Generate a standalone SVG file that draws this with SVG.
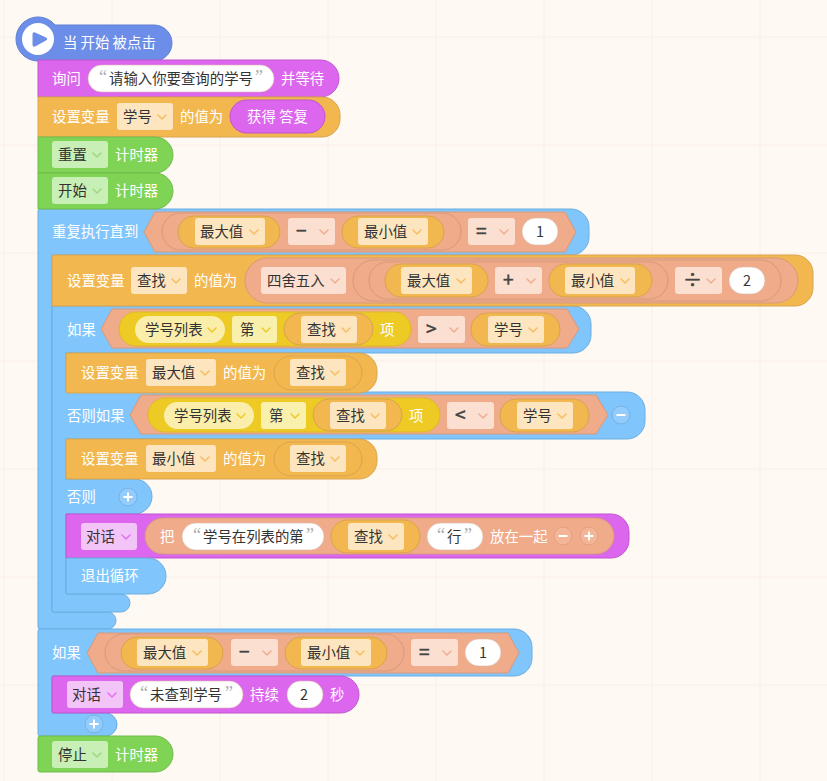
<svg xmlns="http://www.w3.org/2000/svg" width="827" height="781" viewBox="0 0 827 781">
<style>
text{font-family:"Noto Sans CJK SC","Noto Sans",sans-serif;font-size:14.4px}
.t{fill:#fff}.k{fill:#333}.op{fill:#444;stroke:#444;stroke-width:.5px;font-size:19px}.q{fill:#aaa;font-family:"Liberation Serif",serif;font-size:18px}
.grid{stroke:#f9efe6;stroke-width:1;fill:none}
.blue{fill:#80c6fc;stroke:#6aaee2}.org{fill:#f2b84f;stroke:#d9a34e}.pur{fill:#dd66ee;stroke:#bf55cf}.grn{fill:#80d455;stroke:#70bb4c}.sal{fill:#efab8a;stroke:#d69a7c}.yel{fill:#eeca25;stroke:#dcb92a}.hat{fill:#6c8ee8;stroke:#5f80d6}
.lst{fill:#faeeaa}.w{fill:#fff;stroke:#d8b8a8;stroke-width:.6px}.do{fill:#fde6bf}.ds{fill:#fbdfd0}.dg{fill:#c8efb5}.dp{fill:#f2c4f8}.dy{fill:#faf0ae}
.ch{fill:none;stroke-width:1.5;stroke-linecap:round;stroke-linejoin:round}.co{stroke:#f5bd60}.cs{stroke:#f0ad90}.cg{stroke:#9ed880}.cp{stroke:#e070f0}.cy{stroke:#eec92c}
.btn{fill:#93ccfa;stroke:#74b2e6}.bs{fill:#f3b596;stroke:#dfa283}.pm{stroke:#fff;stroke-width:2;fill:none}
</style>
<rect width="827" height="781" fill="#fff9f3"/>
<path class="grid" d="M4 0V781M112 0V781M220 0V781M328 0V781M436 0V781M544 0V781M652 0V781M760 0V781M0 37H827M0 145H827M0 253H827M0 361H827M0 469H827M0 577H827M0 685H827"/>

<g id="repeat">
<path class="blue" d="M40 209H571A18 18 0 0 1 589 227V237A18 18 0 0 1 571 255H52V612H107.500A8.500 8.500 0 0 1 107.500 629H40Q38 629 38 627V211Q38 209 40 209Z"/>
<text class="t" x="52" y="237">重复执行直到</text>
<path class="sal" d="M155 212H565L576 232L565 252H155L144 232Z"/>
<rect class="sal" x="162" y="213" width="299" height="37" rx="18.500"/>
<rect class="org" x="178" y="216" width="102" height="32" rx="16"/>
<rect class="do" x="195" y="218" width="70" height="27" rx="3"/><text class="k" x="200" y="237">最大值</text><path class="ch co" d="M250 230l4 4l4-4"/>
<rect class="ds" x="288" y="218" width="47" height="27" rx="3"/><text class="op" x="296" y="238">−</text><path class="ch cs" d="M320 230l4 4l4-4"/>
<rect class="org" x="342" y="216" width="102" height="32" rx="16"/>
<rect class="do" x="358" y="218" width="70" height="27" rx="3"/><text class="k" x="364" y="237">最小值</text><path class="ch co" d="M413 230l4 4l4-4"/>
<rect class="ds" x="468" y="218" width="47" height="27" rx="3"/><text class="op" x="476" y="238">=</text><path class="ch cs" d="M500 230l4 4l4-4"/>
<rect class="w" x="522" y="218" width="36" height="27" rx="13.500"/><text class="k" x="540" y="237" text-anchor="middle">1</text>
</g>

<g id="if-else">
<path class="blue" d="M54 306H573A18 18 0 0 1 591 324V335A18 18 0 0 1 573 353H66V392H627A18 18 0 0 1 645 410V421A18 18 0 0 1 627 439H66V479H134.500A17.500 17.500 0 0 1 134.500 514H66V594H121A9 9 0 0 1 121 612H54Q52 612 52 610V308Q52 306 54 306Z"/>
<text class="t" x="67" y="335">如果</text>
<path class="sal" d="M112 309H567L579 329L567 348H112L101 329Z"/>
<rect class="yel" x="119" y="312" width="292" height="34" rx="17"/>
<rect class="lst" x="135" y="316" width="90" height="27" rx="13.500"/><text class="k" x="145" y="335">学号列表</text><path class="ch cy" d="M208 328l4 4l4-4"/>
<rect class="dy" x="232" y="316" width="45" height="27" rx="3"/><text class="k" x="240" y="335">第</text><path class="ch cy" d="M262 328l4 4l4-4"/>
<rect class="org" x="284" y="313" width="89" height="32" rx="16"/>
<rect class="do" x="301" y="316" width="56" height="27" rx="3"/><text class="k" x="307" y="335">查找</text><path class="ch co" d="M342 328l4 4l4-4"/>
<text class="t" x="380" y="335">项</text>
<rect class="ds" x="418" y="316" width="47" height="27" rx="3"/><text class="op" x="426" y="336">&gt;</text><path class="ch cs" d="M450 328l4 4l4-4"/>
<rect class="org" x="471" y="313" width="89" height="33" rx="16"/>
<rect class="do" x="488" y="316" width="56" height="27" rx="3"/><text class="k" x="494" y="335">学号</text><path class="ch co" d="M529 328l4 4l4-4"/>

<text class="t" x="67" y="421">否则如果</text>
<path class="sal" d="M141 395H596L608 415L596 434H141L130 415Z"/>
<rect class="yel" x="148" y="398" width="292" height="34" rx="17"/>
<rect class="lst" x="164" y="402" width="90" height="27" rx="13.500"/><text class="k" x="174" y="421">学号列表</text><path class="ch cy" d="M237 414l4 4l4-4"/>
<rect class="dy" x="261" y="402" width="45" height="27" rx="3"/><text class="k" x="269" y="421">第</text><path class="ch cy" d="M291 414l4 4l4-4"/>
<rect class="org" x="313" y="399" width="89" height="32" rx="16"/>
<rect class="do" x="330" y="402" width="56" height="27" rx="3"/><text class="k" x="336" y="421">查找</text><path class="ch co" d="M371 414l4 4l4-4"/>
<text class="t" x="409" y="421">项</text>
<rect class="ds" x="447" y="402" width="47" height="27" rx="3"/><text class="op" x="455" y="422">&lt;</text><path class="ch cs" d="M479 414l4 4l4-4"/>
<rect class="org" x="500" y="399" width="89" height="33" rx="16"/>
<rect class="do" x="517" y="402" width="56" height="27" rx="3"/><text class="k" x="523" y="421">学号</text><path class="ch co" d="M558 414l4 4l4-4"/>
<circle class="btn" cx="621" cy="415" r="9"/><path class="pm" d="M616.500 415H625.500"/>
<text class="t" x="67" y="502">否则</text>
<circle class="btn" cx="128" cy="497" r="9"/><path class="pm" d="M123.500 497H132.500M128 492.500V501.500"/>
</g>

<g id="when-start">
<path class="hat" d="M55 25H154A18 18 0 0 1 154 61H38A22 22 0 1 1 55 25Z"/>
<circle cx="38" cy="39" r="16" fill="#fff"/>
<path d="M33 34Q33 32 35 33L46 38Q48 39 46 40L35 46Q33 47 33 45Z" fill="#6c8ee8" stroke="#6c8ee8"/>
<text class="t" x="63" y="48">当 开始 被点击</text>
</g>

<g id="ask">
<path class="pur" d="M38 60H320.500A18.500 18.500 0 0 1 320.500 97H38Z"/>
<text class="t" x="52" y="84">询问</text>
<rect class="w" x="88" y="65" width="186" height="27" rx="13.500"/>
<text class="q" x="99" y="83">“</text><text class="k" x="109" y="84">请输入你要查询的学号</text><text class="q" x="255" y="83">”</text>
<text class="t" x="281" y="84">并等待</text>
</g>

<g id="set-id">
<path class="org" d="M38 97H322A18 18 0 0 1 340 115V119A18 18 0 0 1 322 137H38Z"/>
<text class="t" x="52" y="122">设置变量</text>
<rect class="do" x="117" y="103" width="56" height="27" rx="3"/><text class="k" x="123" y="122">学号</text><path class="ch co" d="M158 115l4 4l4-4"/>
<text class="t" x="180" y="122">的值为</text>
<rect class="pur" x="230" y="100" width="95" height="33" rx="16.500"/><text class="t" x="247" y="122">获得 答复</text>
</g>

<g id="timer-reset">
<path class="grn" d="M38 137H155A18 18 0 0 1 155 173H38Z"/>
<rect class="dg" x="52" y="141" width="56" height="27" rx="3"/><text class="k" x="58" y="160">重置</text><path class="ch cg" d="M93 153l4 4l4-4"/>
<text class="t" x="115" y="160">计时器</text>
</g>

<g id="timer-start">
<path class="grn" d="M38 173H155A18 18 0 0 1 155 209H38Z"/>
<rect class="dg" x="52" y="177" width="56" height="27" rx="3"/><text class="k" x="58" y="196">开始</text><path class="ch cg" d="M93 189l4 4l4-4"/>
<text class="t" x="115" y="196">计时器</text>
</g>

<g id="set-find">
<path class="org" d="M54 255H795A18 18 0 0 1 813 273V288A18 18 0 0 1 795 306H52V257Q52 255 54 255Z"/>
<text class="t" x="67" y="286">设置变量</text>
<rect class="do" x="131" y="267" width="56" height="27" rx="3"/><text class="k" x="137" y="286">查找</text><path class="ch co" d="M172 279l4 4l4-4"/>
<text class="t" x="194" y="286">的值为</text>
<rect class="sal" x="245" y="258" width="553" height="45" rx="22.500"/>
<rect class="ds" x="261" y="267" width="85" height="27" rx="3"/><text class="k" x="267" y="286">四舍五入</text><path class="ch cs" d="M331 279l4 4l4-4"/>
<rect class="sal" x="353" y="260" width="428" height="41" rx="20.500"/>
<rect class="sal" x="369" y="262" width="299" height="37" rx="18.500"/>
<rect class="org" x="385" y="264" width="103" height="33" rx="16.500"/>
<rect class="do" x="401" y="267" width="71" height="27" rx="3"/><text class="k" x="407" y="286">最大值</text><path class="ch co" d="M457 279l4 4l4-4"/>
<rect class="ds" x="495" y="267" width="47" height="27" rx="3"/><text class="op" x="503" y="287">+</text><path class="ch cs" d="M527 279l4 4l4-4"/>
<rect class="org" x="549" y="264" width="103" height="33" rx="16.500"/>
<rect class="do" x="565" y="267" width="70" height="27" rx="3"/><text class="k" x="571" y="286">最小值</text><path class="ch co" d="M621 279l4 4l4-4"/>
<rect class="ds" x="675" y="267" width="47" height="27" rx="3"/><text class="op" x="683" y="287">÷</text><path class="ch cs" d="M707 279l4 4l4-4"/>
<rect class="w" x="729" y="267" width="36" height="27" rx="13.500"/><text class="k" x="747" y="286" text-anchor="middle">2</text>
</g>

<g id="set-max">
<path class="org" d="M68 353H359A18 18 0 0 1 377 371V375A18 18 0 0 1 359 393H68Q66 393 66 391V355Q66 353 68 353Z"/>
<text class="t" x="81" y="378">设置变量</text>
<rect class="do" x="146" y="359" width="70" height="27" rx="3"/><text class="k" x="152" y="378">最大值</text><path class="ch co" d="M201 371l4 4l4-4"/>
<text class="t" x="223" y="378">的值为</text>
<rect class="org" x="274" y="356" width="88" height="34" rx="17"/>
<rect class="do" x="290" y="359" width="56" height="27" rx="3"/><text class="k" x="296" y="378">查找</text><path class="ch co" d="M331 371l4 4l4-4"/>
</g>

<g id="set-min">
<path class="org" d="M68 439H359A18 18 0 0 1 377 457V461A18 18 0 0 1 359 479H68Q66 479 66 477V441Q66 439 68 439Z"/>
<text class="t" x="81" y="464">设置变量</text>
<rect class="do" x="146" y="445" width="70" height="27" rx="3"/><text class="k" x="152" y="464">最小值</text><path class="ch co" d="M201 457l4 4l4-4"/>
<text class="t" x="223" y="464">的值为</text>
<rect class="org" x="274" y="442" width="88" height="34" rx="17"/>
<rect class="do" x="290" y="445" width="56" height="27" rx="3"/><text class="k" x="296" y="464">查找</text><path class="ch co" d="M331 457l4 4l4-4"/>
</g>

<g id="say-found">
<path class="pur" d="M66 514H611A18 18 0 0 1 629 532V540A18 18 0 0 1 611 558H66Z"/>
<rect class="dp" x="81" y="523" width="56" height="27" rx="3"/><text class="k" x="86" y="542">对话</text><path class="ch cp" d="M122 535l4 4l4-4"/>
<rect class="sal" x="145" y="518" width="469" height="36" rx="18"/>
<text class="t" x="160" y="542">把</text>
<rect class="w" x="182" y="523" width="142" height="27" rx="13.500"/>
<text class="q" x="193" y="541">“</text><text class="k" x="203" y="542">学号在列表的第</text><text class="q" x="306" y="541">”</text>
<rect class="org" x="331" y="520" width="89" height="33" rx="16.500"/>
<rect class="do" x="348" y="523" width="56" height="27" rx="3"/><text class="k" x="354" y="542">查找</text><path class="ch co" d="M389 535l4 4l4-4"/>
<rect class="w" x="427" y="523" width="56" height="27" rx="13.500"/>
<text class="q" x="437" y="541">“</text><text class="k" x="447" y="542">行</text><text class="q" x="464" y="541">”</text>
<text class="t" x="490" y="542">放在一起</text>
<circle class="bs" cx="563" cy="536" r="9"/><path class="pm" d="M558.500 536H567.500"/>
<circle class="bs" cx="589" cy="536" r="9"/><path class="pm" d="M584.500 536H593.500M589 531.500V540.500"/>
</g>

<g id="break">
<path class="blue" d="M68 558H148A18 18 0 0 1 148 594H68Q66 594 66 592V560Q66 558 68 558Z"/>
<text class="t" x="81" y="581">退出循环</text>
</g>

<g id="if-final">
<path class="blue" d="M40 629H514A18 18 0 0 1 532 647V658A18 18 0 0 1 514 676H52V713H105.500A11.500 11.500 0 0 1 105.500 736H40Q38 736 38 734V631Q38 629 40 629Z"/>
<text class="t" x="52" y="658">如果</text>
<path class="sal" d="M98 633H508L519 653L508 673H98L87 653Z"/>
<rect class="sal" x="105" y="634" width="299" height="37" rx="18.500"/>
<rect class="org" x="121" y="637" width="102" height="32" rx="16"/>
<rect class="do" x="137" y="639" width="71" height="27" rx="3"/><text class="k" x="143" y="658">最大值</text><path class="ch co" d="M193 651l4 4l4-4"/>
<rect class="ds" x="231" y="639" width="47" height="27" rx="3"/><text class="op" x="239" y="659">−</text><path class="ch cs" d="M263 651l4 4l4-4"/>
<rect class="org" x="285" y="637" width="102" height="32" rx="16"/>
<rect class="do" x="301" y="639" width="70" height="27" rx="3"/><text class="k" x="307" y="658">最小值</text><path class="ch co" d="M356 651l4 4l4-4"/>
<rect class="ds" x="411" y="639" width="47" height="27" rx="3"/><text class="op" x="419" y="659">=</text><path class="ch cs" d="M443 651l4 4l4-4"/>
<rect class="w" x="465" y="639" width="36" height="27" rx="13.500"/><text class="k" x="483" y="658" text-anchor="middle">1</text>
<circle class="btn" cx="94" cy="724" r="9"/><path class="pm" d="M89.500 724H98.500M94 719.500V728.500"/>
</g>

<g id="say-notfound">
<path class="pur" d="M54 676H340.500A18.500 18.500 0 0 1 340.500 713H54Q52 713 52 711V678Q52 676 54 676Z"/>
<rect class="dp" x="67" y="681" width="56" height="27" rx="3"/><text class="k" x="72" y="700">对话</text><path class="ch cp" d="M108 693l4 4l4-4"/>
<rect class="w" x="130" y="681" width="113" height="27" rx="13.500"/>
<text class="q" x="140" y="699">“</text><text class="k" x="150" y="700">未查到学号</text><text class="q" x="225" y="699">”</text>
<text class="t" x="250" y="700">持续</text>
<rect class="w" x="287" y="681" width="36" height="27" rx="13.500"/><text class="k" x="304" y="700" text-anchor="middle">2</text>
<text class="t" x="330" y="700">秒</text>
</g>

<g id="timer-stop">
<path class="grn" d="M40 736H155A18 18 0 0 1 155 772H40Q38 772 38 770V738Q38 736 40 736Z"/>
<rect class="dg" x="52" y="741" width="56" height="27" rx="3"/><text class="k" x="58" y="760">停止</text><path class="ch cg" d="M93 753l4 4l4-4"/>
<text class="t" x="115" y="760">计时器</text>
</g>
</svg>
